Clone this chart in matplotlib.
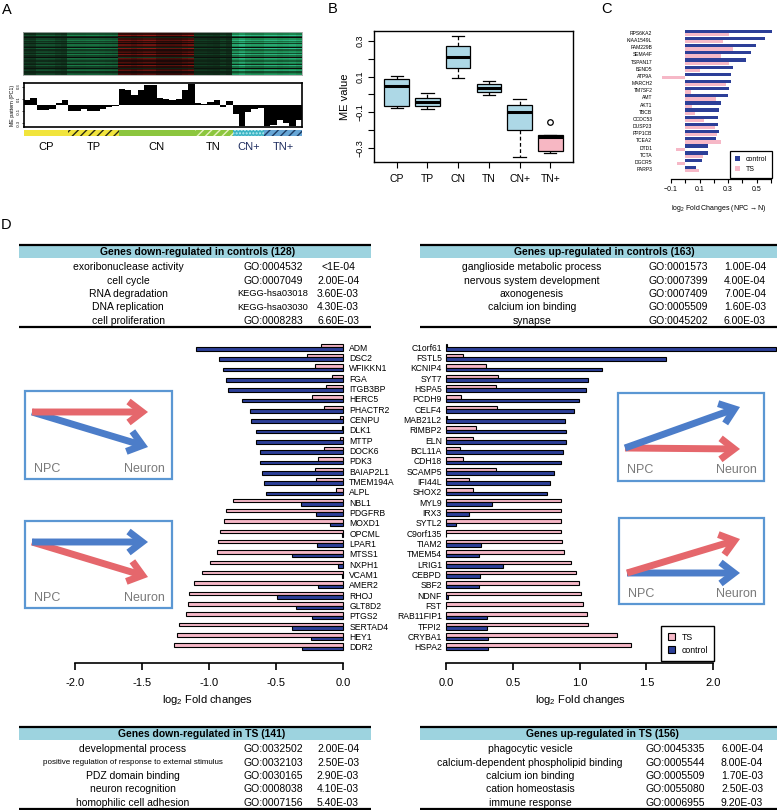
import numpy as np
import matplotlib
matplotlib.use('Agg')
import matplotlib.pyplot as plt
from matplotlib.colors import LinearSegmentedColormap
from matplotlib.patches import Rectangle, FancyArrowPatch

# ======================= DATA =======================
# Panel A : module eigengene pattern per sample (grouped)
groups_A = ['CP', 'TP', 'CN', 'TN', 'CN+', 'TN+']
me_CP = [0.08, 0.11, -0.08, -0.08, -0.065, 0.03, 0.09]
me_TP = [-0.10, -0.09, -0.07, -0.09, -0.09, -0.06, -0.04, -0.01]
me_CN = [0.27, 0.25, 0.16, 0.25, 0.33, 0.33, 0.11, 0.10, 0.09, 0.10, 0.25, 0.34]
me_TN = [0.03, 0.02, 0.05, 0.08, -0.035, 0.065]
me_CNp = [-0.15, -0.35, -0.12, -0.06, -0.05]
me_TNp = [-0.35, -0.33, -0.25, -0.30, -0.35, -0.25]
heat_level = [-0.30, -0.40, 0.55, -0.25, -0.62, -0.55]
heat_row_w = [0.6, 1.1, 0.8, 1.3, 0.5, -0.3, 0.9, 1.2, 0.7, 1.0, 0.4, 1.1, 0.8, -0.2,
              1.3, 0.6, 0.9, 1.0, 0.5, 1.2, 0.7, -0.4, 1.1, 0.9, 0.6, 1.0, 0.8, 0.3,
              1.2, 0.7, -0.2, 0.9, 1.1, 0.5, 0.8, 1.0]

# Panel B : box plot statistics of ME value
box_groups = ['CP', 'TP', 'CN', 'TN', 'CN+', 'TN+']
box_q1 = [-0.065, -0.065, 0.150, 0.015, -0.200, -0.320]
box_med = [0.048, -0.045, 0.210, 0.035, -0.100, -0.240]
box_q3 = [0.087, -0.020, 0.270, 0.060, -0.060, -0.225]
box_lo = [-0.075, -0.080, 0.090, -0.005, -0.350, -0.330]
box_hi = [0.104, 0.010, 0.330, 0.075, -0.025, -0.225]
box_fliers = [[], [], [], [], [], [-0.155]]

# Panel C
genes_C = ['RPS6KA2', 'KIAA1549L', 'FAM229B', 'SEMA4F', 'TSPAN17', 'BEND5', 'ATP9A',
           'MARCH2', 'TM7SF2', 'AMT', 'AKT1', 'TBCB', 'CCDC53', 'DUSP23', 'PPP1CB',
           'TCEA2', 'DTD1', 'TCTA', 'DGCR5', 'PARP3']
ctrl_C = [0.607, 0.558, 0.495, 0.463, 0.426, 0.337, 0.323, 0.321, 0.307, 0.302,
          0.253, 0.233, 0.230, 0.230, 0.233, 0.214, 0.160, 0.156, 0.119, 0.072]
ts_C = [0.307, 0.265, 0.335, 0.249, 0.307, 0.105, -0.160, 0.284, 0.037, 0.214,
        0.044, 0.067, 0.130, 0.205, 0.219, 0.249, -0.067, 0.126, -0.056, 0.098]

# Panel D left (down-regulated)
genes_L = ['ADM', 'DSC2', 'WFIKKN1', 'FGA', 'ITGB3BP', 'HERC5', 'PHACTR2', 'CENPU',
           'DLK1', 'MTTP', 'DOCK6', 'PDK3', 'BAIAP2L1', 'TMEM194A', 'ALPL', 'NBL1',
           'PDGFRB', 'MOXD1', 'OPCML', 'LPAR1', 'MTSS1', 'NXPH1', 'VCAM1', 'AMER2',
           'RHOJ', 'GLT8D2', 'PTGS2', 'SERTAD4', 'HEY1', 'DDR2']
ts_L = [-0.165, -0.27, -0.212, -0.08, -0.127, -0.232, -0.145, -0.025, -0.005, -0.02,
        -0.145, -0.187, -0.21, -0.202, -0.05, -0.823, -0.87, -0.888, -0.92, -0.933,
        -0.938, -0.995, -1.055, -1.115, -1.152, -1.155, -1.17, -1.227, -1.237, -1.26]
ctrl_L = [-1.097, -0.925, -0.893, -0.873, -0.855, -0.756, -0.696, -0.69, -0.65, -0.646,
          -0.623, -0.623, -0.603, -0.589, -0.574, -0.314, -0.20, -0.10, -0.005, -0.195,
          -0.38, -0.04, -0.005, -0.19, -0.49, -0.352, -0.234, -0.38, -0.242, -0.307]

# Panel D right (up-regulated)
genes_R = ['C1orf61', 'FSTL5', 'KCNIP4', 'SYT7', 'HSPA5', 'PCDH9', 'CELF4', 'MAB21L2',
           'RIMBP2', 'ELN', 'BCL11A', 'CDH18', 'SCAMP5', 'IFI44L', 'SHOX2', 'MYL9',
           'IRX3', 'SYTL2', 'C9orf135', 'TIAM2', 'TMEM54', 'LRIG1', 'CEBPD', 'SBF2',
           'NDNF', 'FST', 'RAB11FIP1', 'TFPI2', 'CRYBA1', 'HSPA2']
ts_R = [0.005, 0.125, 0.30, 0.392, 0.372, 0.115, 0.379, 0.005, 0.222, 0.20,
        0.102, 0.13, 0.372, 0.175, 0.20, 0.858, 0.858, 0.858, 0.858, 0.868,
        0.883, 0.933, 0.97, 0.993, 1.01, 1.027, 1.055, 1.067, 1.282, 1.389]
ctrl_R = [2.47, 1.648, 1.172, 1.067, 1.052, 0.993, 0.96, 0.893, 0.895, 0.895,
          0.873, 0.86, 0.81, 0.776, 0.753, 0.342, 0.175, 0.075, 0.003, 0.262,
          0.247, 0.424, 0.257, 0.244, 0.017, 0.003, 0.309, 0.304, 0.317, 0.317]

# Enrichment tables
tab_dc_title = 'Genes down-regulated in controls (128)'
tab_dc_terms = ['exoribonuclease activity', 'cell cycle', 'RNA degradation',
                'DNA replication', 'cell proliferation']
tab_dc_ids = ['GO:0004532', 'GO:0007049', 'KEGG-hsa03018', 'KEGG-hsa03030', 'GO:0008283']
tab_dc_p = ['<1E-04', '2.00E-04', '3.60E-03', '4.30E-03', '6.60E-03']

tab_uc_title = 'Genes up-regulated in controls (163)'
tab_uc_terms = ['ganglioside metabolic process', 'nervous system development',
                'axonogenesis', 'calcium ion binding', 'synapse']
tab_uc_ids = ['GO:0001573', 'GO:0007399', 'GO:0007409', 'GO:0005509', 'GO:0045202']
tab_uc_p = ['1.00E-04', '4.00E-04', '7.00E-04', '1.60E-03', '6.00E-03']

tab_dt_title = 'Genes down-regulated in TS (141)'
tab_dt_terms = ['developmental process',
                'positive regulation of response to external stimulus',
                'PDZ domain binding', 'neuron recognition', 'homophilic cell adhesion']
tab_dt_ids = ['GO:0032502', 'GO:0032103', 'GO:0030165', 'GO:0008038', 'GO:0007156']
tab_dt_p = ['2.00E-04', '2.50E-03', '2.90E-03', '4.10E-03', '5.40E-03']

tab_ut_title = 'Genes up-regulated in TS (156)'
tab_ut_terms = ['phagocytic vesicle', 'calcium-dependent phospholipid binding',
                'calcium ion binding', 'cation homeostasis', 'immune response']
tab_ut_ids = ['GO:0045335', 'GO:0005544', 'GO:0005509', 'GO:0055080', 'GO:0006955']
tab_ut_p = ['6.00E-04', '8.00E-04', '1.70E-03', '2.50E-03', '9.20E-03']

# ======================= STYLE =======================
plt.rcParams['font.family'] = ['Liberation Sans', 'DejaVu Sans']
plt.rcParams['mathtext.fontset'] = 'custom'
plt.rcParams['mathtext.rm'] = 'Liberation Sans'
plt.rcParams['mathtext.it'] = 'Liberation Sans:italic'
plt.rcParams['mathtext.bf'] = 'Liberation Sans:bold'
plt.rcParams['hatch.linewidth'] = 1.0

W, H = 777, 810
fig = plt.figure(figsize=(W / 100, H / 100), dpi=100)


def add_ax(x0, y0, x1, y1, **kw):
    return fig.add_axes([x0 / W, 1 - y1 / H, (x1 - x0) / W, (y1 - y0) / H], **kw)


NAVY = '#2c3f98'
PINK = '#f6b8c7'
MINUS = '\u2212'

# ======================= PANEL A =======================
me_groups = [me_CP, me_TP, me_CN, me_TN, me_CNp, me_TNp]
counts = [len(g) for g in me_groups]
me_all = np.concatenate(me_groups)
n = len(me_all)

cmap = LinearSegmentedColormap.from_list(
    'gkr', ['#36c89a', '#1c8a50', '#0f2a18', '#080808', '#3a0c08', '#a8201a'])
col_level = np.repeat(heat_level, counts) + 0.5 * me_all
heat = np.outer(heat_row_w, col_level)
axh = add_ax(23, 32, 302, 75)
axh.imshow(heat, aspect='auto', cmap=cmap, vmin=-1, vmax=1, interpolation='nearest',
           extent=(0, n, len(heat_row_w), 0))
axh.set_xticks([]); axh.set_yticks([])
for s in axh.spines.values():
    s.set_color('#aaaaaa'); s.set_linewidth(0.6); s.set_linestyle((0, (1, 1)))

axm = add_ax(24, 83, 302, 127)
axm.bar(np.arange(n), me_all, width=1.0, align='edge', color='black', linewidth=0)
axm.set_xlim(0, n)
axm.set_ylim(-0.36, 0.36)
axm.set_xticks([])
axm.set_yticks([-0.3, -0.1, 0.1, 0.3])
axm.set_yticklabels(['-0.3', '-0.1', '0.1', '0.3'], rotation=90, va='center', fontsize=3)
axm.tick_params(axis='y', length=1.5, width=0.5, pad=1)
for s in axm.spines.values():
    s.set_linewidth(1.2)
axm.set_ylabel('ME pattern (PC1)', fontsize=3.8, labelpad=1)

strip_fc = ['#f1e43c', '#f1e43c', '#8cc63e', '#8cc63e', '#3cb4c4', '#66a6d6']
strip_hatch = [None, '////', None, '////', '.....', '////']
strip_hc = ['#f1e43c', '#2a2a10', '#8cc63e', '#e8f2c0', '#bfeef2', '#1c3c64']
axs = add_ax(24, 130, 302, 136)
starts = np.concatenate([[0], np.cumsum(counts)[:-1]])
axs.bar(starts, [1] * len(counts), width=counts, align='edge', color=strip_fc,
        edgecolor=strip_hc, linewidth=0)
for bar, h in zip(axs.patches, strip_hatch):
    if h:
        bar.set_hatch(h)
axs.set_xlim(0, n); axs.set_ylim(0, 1)
axs.axis('off')
lab_cols = ['black', 'black', 'black', 'black', '#1d2c5e', '#1d2c5e']
for st, c, g, lc in zip(starts, counts, groups_A, lab_cols):
    axs.text(st + c / 2, -1.8, g, ha='center', va='center', fontsize=8, color=lc,
             transform=axs.transData)

# ======================= PANEL B =======================
axb = add_ax(374, 31, 573, 162)
stats = []
for i, g in enumerate(box_groups):
    stats.append(dict(label=g, med=box_med[i], q1=box_q1[i], q3=box_q3[i],
                      whislo=box_lo[i], whishi=box_hi[i], fliers=box_fliers[i]))
box_colors = ['#add8e6'] * 5 + ['#f7b7c3']
bp = axb.bxp(stats, positions=np.arange(1, 7), widths=0.8, capwidths=0.4, patch_artist=True,
             boxprops=dict(linewidth=0.9, edgecolor='black'),
             whiskerprops=dict(linestyle=(0, (3, 2)), linewidth=0.9),
             capprops=dict(linewidth=0.9),
             medianprops=dict(color='black', linewidth=2.2),
             flierprops=dict(marker='o', markerfacecolor='none', markeredgecolor='black',
                             markersize=4, markeredgewidth=0.9))
for patch, c in zip(bp['boxes'], box_colors):
    patch.set_facecolor(c)
axb.set_xlim(0.26, 6.74)
axb.set_ylim(-0.379, 0.356)
yt = [-0.3, -0.2, -0.1, 0.0, 0.1, 0.2, 0.3]
axb.set_yticks(yt)
axb.set_yticklabels([MINUS + '0.3', '', MINUS + '0.1', '', '0.1', '', '0.3'],
                    rotation=90, va='center', fontsize=6.5)
axb.tick_params(axis='both', direction='out', length=4, width=0.8)
axb.tick_params(axis='y', pad=3)
axb.tick_params(axis='x', labelsize=7.5, pad=5)
for s in axb.spines.values():
    s.set_linewidth(1.0)
axb.set_ylabel('ME value', fontsize=8, labelpad=4)

# ======================= PANEL C =======================
axc = add_ax(660, 27, 777, 179)
yc = np.arange(len(genes_C))
bc_ct = axc.barh(yc - 0.23, ctrl_C, height=0.46, color=NAVY, linewidth=0)
bc_ts = axc.barh(yc + 0.23, ts_C, height=0.46, color=PINK, linewidth=0)
axc.set_xlim(-0.177, 0.642)
axc.set_ylim(20.4, -0.84)
for k in ['top', 'right', 'left']:
    axc.spines[k].set_visible(False)
axc.spines['bottom'].set_bounds(-0.1, 0.6)
axc.spines['bottom'].set_linewidth(0.9)
axc.set_xticks(np.round(np.arange(-0.1, 0.61, 0.1), 2))
axc.set_xticklabels([MINUS + '0.1', '', '0.1', '', '0.3', '', '0.5', ''], fontsize=5)
axc.tick_params(axis='x', length=3, width=0.8, pad=2)
axc.set_yticks(yc)
axc.set_yticklabels(genes_C, fontsize=3.6)
axc.tick_params(axis='y', length=0, pad=5.5)
axc.set_xlabel(r'log$_2$ Fold Changes (NPC$\rightarrow$N)', fontsize=5, labelpad=7)
lgc = axc.legend([bc_ct, bc_ts], ['control', 'TS'], loc='lower right',
                 bbox_to_anchor=(772 / W, 1 - 178 / H), bbox_transform=fig.transFigure,
                 fontsize=5, frameon=True, fancybox=False, edgecolor='black', framealpha=1,
                 borderpad=0.7, handlelength=0.8, handleheight=0.8, handletextpad=0.8,
                 labelspacing=0.5, borderaxespad=0)
lgc.get_frame().set_linewidth(0.9)

# ======================= PANEL D bars =======================
axl = add_ax(10, 340, 345, 663)
yl = np.arange(len(genes_L))
bl_ts = axl.barh(yl - 0.17, ts_L, height=0.34, color=PINK, edgecolor='black', linewidth=0.8)
bl_ct = axl.barh(yl + 0.17, ctrl_L, height=0.34, color=NAVY, edgecolor='black', linewidth=0.8)
axl.set_xlim(-2.485, 0.015)
axl.set_ylim(30.56, -0.68)
for k in ['top', 'right', 'left']:
    axl.spines[k].set_visible(False)
axl.spines['bottom'].set_bounds(-2.0, 0.0)
axl.spines['bottom'].set_linewidth(1.2)
axl.set_xticks([-2.0, -1.5, -1.0, -0.5, 0.0])
axl.set_xticklabels(['-2.0', '-1.5', '-1.0', '-0.5', '0.0'], fontsize=8)
axl.tick_params(axis='x', length=5, width=1.2, pad=6)
axl.yaxis.tick_right()
axl.set_yticks(yl)
axl.set_yticklabels(genes_L, fontsize=6.2)
axl.tick_params(axis='y', length=0, pad=3)
axl.set_xlabel(r'log$_2$ Fold changes', fontsize=8, va='center')
axl.xaxis.set_label_coords((208 - 10) / 335, -(700 - 663) / 323)

axr = add_ax(446, 340, 777, 663)
yr = np.arange(len(genes_R))
br_ts = axr.barh(yr - 0.17, ts_R, height=0.34, color=PINK, edgecolor='black', linewidth=0.8,
                 clip_on=False)
br_ct = axr.barh(yr + 0.17, ctrl_R, height=0.34, color=NAVY, edgecolor='black', linewidth=0.8,
                 clip_on=False)
axr.set_xlim(0, 2.479)
axr.set_ylim(30.56, -0.68)
for k in ['top', 'right', 'left']:
    axr.spines[k].set_visible(False)
axr.spines['bottom'].set_bounds(0.0, 2.0)
axr.spines['bottom'].set_linewidth(1.2)
axr.set_xticks([0.0, 0.5, 1.0, 1.5, 2.0])
axr.set_xticklabels(['0.0', '0.5', '1.0', '1.5', '2.0'], fontsize=8)
axr.tick_params(axis='x', length=5, width=1.2, pad=6)
axr.set_yticks(yr)
axr.set_yticklabels(genes_R, fontsize=6.2)
axr.tick_params(axis='y', length=0, pad=3)
axr.set_xlabel(r'log$_2$ Fold changes', fontsize=8, va='center')
axr.xaxis.set_label_coords((581 - 446) / 331, -(700 - 663) / 323)
lgd = axr.legend([br_ts, br_ct], ['TS', 'control'], loc='lower right',
                 bbox_to_anchor=(714 / W, 1 - 661 / H), bbox_transform=fig.transFigure,
                 fontsize=6.3, frameon=True, fancybox=False, edgecolor='black', framealpha=1,
                 borderpad=0.7, handlelength=0.8, handleheight=0.8, handletextpad=0.8,
                 labelspacing=0.5, borderaxespad=0)
lgd.get_frame().set_linewidth(1.0)

# ======================= OVERLAY =======================
ov = fig.add_axes([0, 0, 1, 1], zorder=10)
ov.set_xlim(0, W); ov.set_ylim(H, 0)
ov.axis('off')
ov.patch.set_alpha(0)

for lab, x, y in [('A', 2, 10), ('B', 328, 9), ('C', 601, 9), ('D', 1, 225)]:
    ov.text(x, y, lab, fontsize=10.5, ha='left', va='center')

HEAD = '#9dd3df'


def draw_table(x0, x1, ytop, title, tcx, terms, ids, ps, cols, term_fs, id_fs):
    ov.add_patch(Rectangle((x0, ytop), x1 - x0, 13, facecolor=HEAD, edgecolor='none'))
    ov.plot([x0, x1], [ytop, ytop], color='black', lw=1.6, solid_capstyle='butt')
    ov.plot([x0, x1], [ytop + 82, ytop + 82], color='black', lw=1.6, solid_capstyle='butt')
    ov.text(tcx, ytop + 6.8, title, fontsize=7.5, fontweight='bold', ha='center', va='center')
    offs = [22, 35.5, 49, 62.3, 76]
    for i in range(5):
        y = ytop + offs[i]
        ov.text(cols[0], y, terms[i], fontsize=term_fs[i], ha='center', va='center')
        ov.text(cols[1], y, ids[i], fontsize=id_fs[i], ha='center', va='center')
        ov.text(cols[2], y, ps[i], fontsize=7.5, ha='center', va='center')


draw_table(19, 371, 245, tab_dc_title, 198, tab_dc_terms, tab_dc_ids, tab_dc_p,
           (128, 273, 338), [7.5] * 5, [7.5, 7.5, 6.7, 6.7, 7.5])
draw_table(420, 777, 245, tab_uc_title, 604, tab_uc_terms, tab_uc_ids, tab_uc_p,
           (532, 678, 745), [7.5] * 5, [7.5] * 5)
draw_table(19, 371, 727, tab_dt_title, 202, tab_dt_terms, tab_dt_ids, tab_dt_p,
           (133, 273, 338), [7.5, 5.8, 7.5, 7.5, 7.5], [7.5] * 5)
draw_table(420, 777, 727, tab_ut_title, 602, tab_ut_terms, tab_ut_ids, tab_ut_p,
           (530, 675, 742), [7.5] * 5, [7.5] * 5)

RED = '#e5676c'
BLUE = '#4c7dc9'
BOXC = '#5b97d3'


def inset(x0, y0, x1, y1, arrows, npc, neuron):
    ov.add_patch(Rectangle((x0, y0), x1 - x0, y1 - y0, facecolor='white', edgecolor=BOXC, lw=1.6))
    for (xs, ys, xe, ye, col) in arrows:
        ov.add_patch(FancyArrowPatch((xs, ys), (xe, ye),
                                     arrowstyle='->,head_length=0.55,head_width=0.42',
                                     mutation_scale=18, lw=5, color=col, shrinkA=0, shrinkB=0,
                                     capstyle='butt', joinstyle='miter'))
    ov.text(npc[0], npc[1], 'NPC', fontsize=9, color='#7a7a7a', ha='left', va='center')
    ov.text(neuron[0], neuron[1], 'Neuron', fontsize=9, color='#7a7a7a', ha='right', va='center')


inset(25, 391, 172, 479, [(32, 412, 148, 447, BLUE), (32, 412, 148, 412, RED)],
      (34, 469), (165, 469))
inset(25, 521, 172, 608, [(32, 542, 148, 577, RED), (32, 542, 148, 542, BLUE)],
      (34, 598), (165, 598))
inset(618, 393, 764, 481, [(625, 448, 740, 449, RED), (625, 448, 740, 407, BLUE)],
      (627, 470), (757, 470))
inset(619, 518, 764, 604, [(627, 573, 740, 573, BLUE), (627, 573, 740, 539, RED)],
      (628, 594), (757, 594))

fig.savefig('out.png', dpi=100)
